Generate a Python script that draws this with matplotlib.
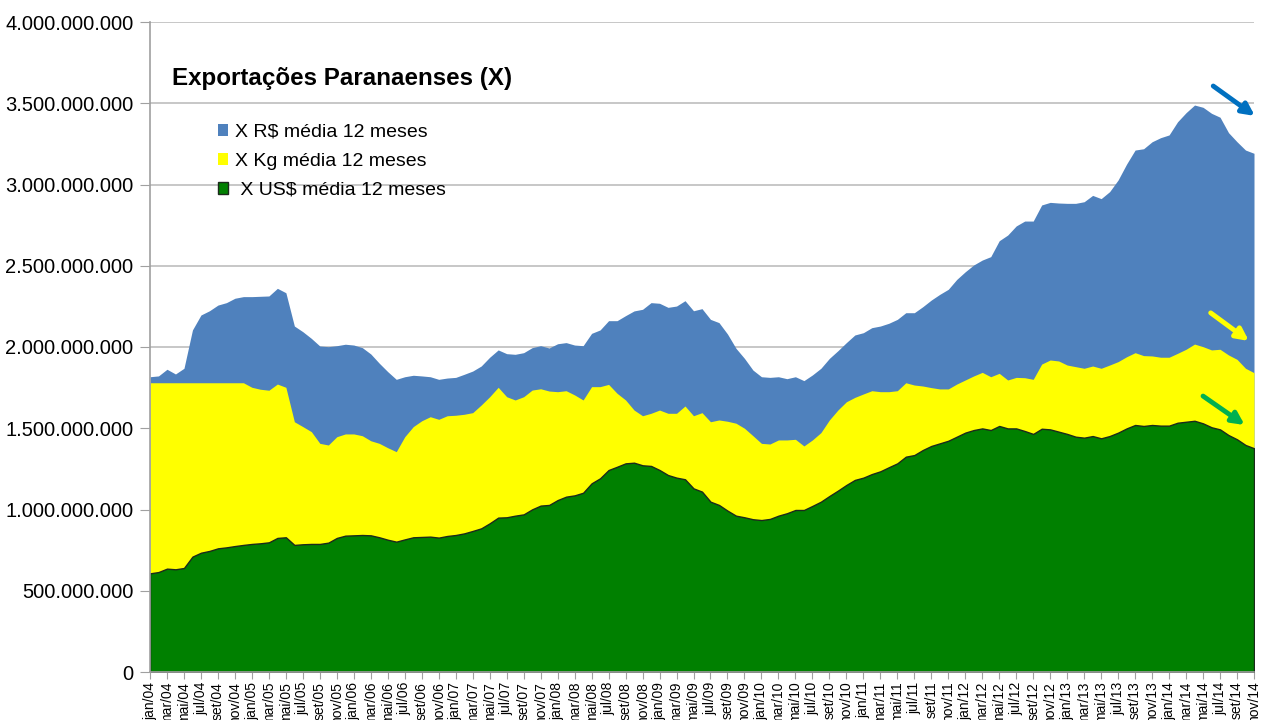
import matplotlib.pyplot as plt
import numpy as np
from matplotlib.patches import Patch
from matplotlib.ticker import FuncFormatter, MultipleLocator

plt.rcParams['font.family'] = ['Liberation Sans', 'DejaVu Sans']

# meses jan/04 .. nov/14
meses = ['jan', 'fev', 'mar', 'abr', 'mai', 'jun', 'jul', 'ago', 'set', 'out', 'nov', 'dez']
rotulos = [f'{meses[k % 12]}/{4 + k // 12:02d}' for k in range(131)]

# valores em milhoes (media 12 meses)
x_reais = [1817, 1822, 1863, 1834, 1869, 2105, 2197, 2223, 2258, 2273, 2300, 2310, 2310, 2312, 2314, 2361,
           2334, 2129, 2094, 2053, 2006, 2002, 2008, 2017, 2012, 1996, 1957, 1900, 1848, 1801, 1817, 1826,
           1822, 1817, 1801, 1809, 1813, 1832, 1852, 1883, 1937, 1982, 1959, 1955, 1965, 1996, 2008, 1994,
           2020, 2027, 2012, 2008, 2084, 2105, 2162, 2162, 2193, 2222, 2232, 2273, 2269, 2244, 2252, 2285,
           2223, 2236, 2170, 2150, 2080, 1992, 1930, 1858, 1817, 1813, 1817, 1805, 1817, 1793, 1828, 1869,
           1930, 1977, 2027, 2074, 2088, 2119, 2129, 2146, 2170, 2211, 2211, 2248, 2289, 2324, 2355, 2416,
           2463, 2505, 2535, 2556, 2654, 2689, 2745, 2775, 2775, 2874, 2890, 2886, 2884, 2884, 2894, 2933,
           2913, 2956, 3028, 3126, 3212, 3220, 3263, 3288, 3305, 3386, 3442, 3489, 3475, 3438, 3414, 3319,
           3263, 3212, 3192]
x_kg = [1780] * 12 + [1752, 1740, 1734, 1772, 1752, 1540, 1510, 1479, 1407, 1397, 1448, 1465, 1465, 1454,
                      1423, 1407, 1380, 1356, 1448, 1510, 1546, 1571, 1555, 1577, 1580, 1586, 1596, 1643,
                      1694, 1752, 1694, 1674, 1694, 1735, 1743, 1729, 1725, 1731, 1705, 1674, 1756, 1756,
                      1770, 1715, 1674, 1612, 1577, 1592, 1612, 1592, 1592, 1637, 1577, 1596, 1540, 1551,
                      1543, 1531, 1500, 1454, 1407, 1403, 1428, 1428, 1432, 1391, 1428, 1473, 1551, 1612,
                      1663, 1690, 1711, 1731, 1725, 1725, 1731, 1780, 1766, 1760, 1750, 1742, 1742, 1772,
                      1797, 1822, 1844, 1817, 1838, 1797, 1813, 1811, 1801, 1895, 1920, 1914, 1889, 1879,
                      1869, 1883, 1869, 1889, 1910, 1940, 1965, 1947, 1945, 1937, 1937, 1961, 1986, 2018,
                      2002, 1982, 1986, 1951, 1924, 1869, 1842]
x_usd = [607, 615, 636, 632, 640, 710, 734, 745, 761, 767, 775, 782, 788, 792, 798, 825, 829, 782, 786, 788,
         788, 796, 825, 839, 841, 843, 841, 829, 814, 802, 816, 829, 831, 833, 827, 837, 843, 853, 868, 884,
         915, 950, 952, 962, 970, 1001, 1024, 1028, 1058, 1079, 1087, 1103, 1161, 1192, 1243, 1263, 1284,
         1288, 1272, 1268, 1243, 1212, 1196, 1186, 1130, 1110, 1048, 1028, 993, 962, 952, 940, 935, 942, 962,
         977, 997, 997, 1022, 1048, 1083, 1116, 1151, 1182, 1196, 1218, 1235, 1260, 1284, 1325, 1335, 1366,
         1391, 1407, 1423, 1448, 1473, 1489, 1499, 1489, 1514, 1499, 1499, 1483, 1465, 1497, 1493, 1479, 1465,
         1448, 1442, 1452, 1438, 1452, 1473, 1499, 1520, 1514, 1520, 1516, 1516, 1534, 1540, 1546, 1530, 1506,
         1493, 1458, 1432, 1397, 1377]

n = np.arange(len(rotulos))
reais = np.array(x_reais) * 1e6
kg = np.array(x_kg) * 1e6
usd = np.array(x_usd) * 1e6

fig = plt.figure(figsize=(12.61, 7.2), dpi=100)
ax = fig.add_axes([150 / 1261, 48 / 720, 1104 / 1261, 650 / 720])

# areas sobrepostas (nao empilhadas)
ax.fill_between(n, 0, reais, color='#4F81BD', lw=0, zorder=2)
ax.fill_between(n, 0, kg, color='#FFFF00', lw=0, zorder=3)
ax.fill_between(n, 0, usd, facecolor='#008000', edgecolor='#1c2a1c', lw=1.0, zorder=4)

ax.set_xlim(0, 130)
ax.set_ylim(0, 4e9)
ax.yaxis.set_major_locator(MultipleLocator(5e8))
ax.yaxis.set_major_formatter(FuncFormatter(lambda v, p: f'{int(v):,}'.replace(',', '.')))
ax.grid(axis='y', color='#BEBEBE', lw=1.2, zorder=0)
ax.set_axisbelow(True)

ax.set_xticks(n[::2])
ax.set_xticklabels(rotulos[::2], rotation=90, fontsize=10, va='top', ha='center')
ax.tick_params(axis='x', length=5, color='#A0A0A0', pad=2)
ax.tick_params(axis='y', length=7, color='#A0A0A0', pad=5, labelsize=14.5)

for s in ['top', 'right']:
    ax.spines[s].set_visible(False)
for s in ['left', 'bottom']:
    ax.spines[s].set_color('#A0A0A0')
    ax.spines[s].set_linewidth(1.2)
    ax.spines[s].set_zorder(5)

fig.text(172 / 1261, 1 - 78 / 720, 'Exportações Paranaenses (X)', fontsize=17.4, fontweight='bold',
         va='center', ha='left')

handles = [Patch(facecolor='#4F81BD', edgecolor='none'),
           Patch(facecolor='#FFFF00', edgecolor='none'),
           Patch(facecolor='#008000', edgecolor='#1c2a1c', lw=1)]
labels = ['X R$ média 12 meses', 'X Kg média 12 meses', ' X US$ média 12 meses']
ax.legend(handles, labels, loc='upper left', bbox_to_anchor=(208 / 1261, 1 - 114 / 720),
          bbox_transform=fig.transFigure, frameon=False, fontsize=14, handlelength=0.55,
          handleheight=0.55, handletextpad=0.35, labelspacing=0.62, borderpad=0)

# setas de tendencia
setas = [((125.2, 3606e6), (130.1, 3422e6), '#0070C0'),
         ((124.9, 2210e6), (129.4, 2037e6), '#FFFF00'),
         ((124.0, 1698e6), (128.9, 1520e6), '#00B050')]
for ini, fim, cor in setas:
    ax.annotate('', xy=fim, xytext=ini, annotation_clip=False, zorder=6,
                arrowprops=dict(arrowstyle='-|>', color=cor, lw=3.5, mutation_scale=18,
                                shrinkA=0, shrinkB=0))

fig.savefig('out.png', dpi=100)
